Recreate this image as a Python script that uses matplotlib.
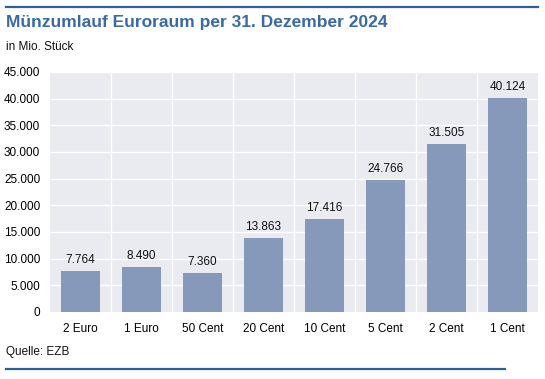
import matplotlib
matplotlib.use("Agg")
import matplotlib.pyplot as plt
from matplotlib.lines import Line2D

categories = ["2 Euro", "1 Euro", "50 Cent", "20 Cent", "10 Cent", "5 Cent", "2 Cent", "1 Cent"]
values = [7764, 8490, 7360, 13863, 17416, 24766, 31505, 40124]
yticks = [0, 5000, 10000, 15000, 20000, 25000, 30000, 35000, 40000, 45000]

plt.rcParams['font.family'] = ['Liberation Sans', 'DejaVu Sans']

def fmt(v):
    return f"{v:,}".replace(",", ".")

fig = plt.figure(figsize=(5.45, 3.79), dpi=100)
W, H = 545, 379
ax = fig.add_axes([50 / W, 1 - 312 / H, 488 / W, 240 / H])
ax.set_facecolor("#e9ebf0")
x = list(range(len(categories)))
ax.bar(x, values, width=0.65, color="#8799bb", zorder=3)
ax.set_xlim(-0.5, len(categories) - 0.5)
ax.set_ylim(0, 45000)
ax.set_yticks(yticks)
ax.set_yticklabels([fmt(v) for v in yticks], fontsize=8.5)
ax.set_xticks(x)
ax.set_xticklabels(categories, fontsize=8.5)
ax.tick_params(length=0, pad=7)
ax.tick_params(axis='x', pad=8)
for yy in yticks[1:]:
    ax.axhline(yy, color="white", lw=1, zorder=1)
for b in range(1, len(categories)):
    ax.axvline(b - 0.5, color="white", lw=1, zorder=1)
for s in ax.spines.values():
    s.set_visible(False)
for xi, v in zip(x, values):
    ax.annotate(fmt(v), (xi, v), xytext=(0, 3.5), textcoords="offset points",
                ha="center", va="bottom", fontsize=8.5, color="#111111", zorder=4)

fig.add_artist(Line2D([6 / W, 538 / W], [1 - 7 / H, 1 - 7 / H], color="#2f5f9e", lw=1.6))
fig.add_artist(Line2D([6 / W, 505 / W], [1 - 369 / H, 1 - 369 / H], color="#2f5f9e", lw=1.6))
fig.text(6 / W, 1 - 23 / H, "Münzumlauf Euroraum per 31. Dezember 2024", fontsize=12.5,
         fontweight="bold", color="#3a6aa6", va="center", ha="left")
fig.text(6 / W, 1 - 47 / H, "in Mio. Stück", fontsize=8.5, color="#111111", va="center", ha="left")
fig.text(6 / W, 1 - 352 / H, "Quelle: EZB", fontsize=8.5, color="#111111", va="center", ha="left")

fig.savefig("out.png", dpi=100)
